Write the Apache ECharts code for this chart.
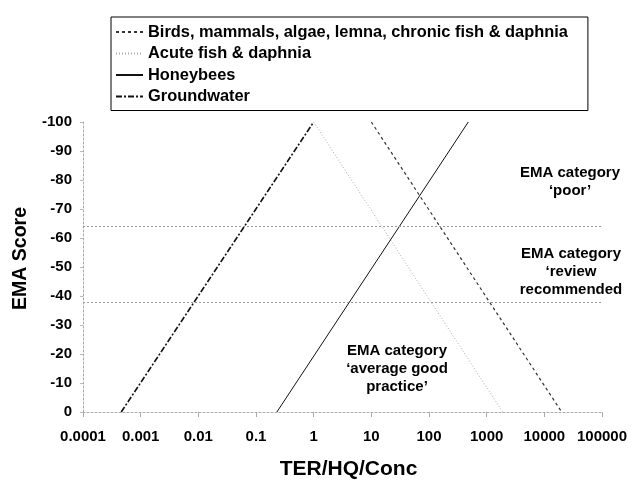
<!DOCTYPE html>
<html>
<head>
<meta charset="utf-8">
<script src="https://cdn.jsdelivr.net/npm/echarts@6/dist/echarts.min.js"></script>
<style>
html,body{margin:0;padding:0;background:#fff;}
#chart{width:634px;height:490px;}
</style>
</head>
<body>
<div id="chart"></div>
<script>
// ---- data ----
var seriesNames = [
  'Birds, mammals, algae, lemna, chronic fish & daphnia',
  'Acute fish & daphnia',
  'Honeybees',
  'Groundwater'
];
var birdsLine = [[10, -100], [20000, 0]];
var acuteLine = [[1, -100], [1900, 0]];
var honeybeeLine = [[0.23, 0], [480, -100]];
var groundwaterLine = [[0.00046, 0], [1, -100]];
var categoryThresholds = [-64, -38];
var xTickLabels = ['0.0001', '0.001', '0.01', '0.1', '1', '10', '100', '1000', '10000', '100000'];
var yTickLabels = ['-100','-90','-80','-70','-60','-50','-40','-30','-20','-10','0'];
var annotations = [
  ['EMA category', '\u2018poor\u2019'],
  ['EMA category', '\u2018review', 'recommended'],
  ['EMA category', '\u2018average good', 'practice\u2019']
];

var FONT = '"Liberation Sans", Arial, sans-serif';
var chart = echarts.init(document.getElementById('chart'), null, {renderer: 'canvas'});

function annot(lines, cx, cy) {
  return {
    type: 'text',
    x: cx, y: cy,
    z: 100,
    style: {
      text: lines.join('\n'),
      font: 'bold 15px ' + FONT,
      fill: '#000',
      align: 'center',
      verticalAlign: 'top',
      lineHeight: 18
    }
  };
}

var option = {
  backgroundColor: '#fff',
  animation: false,
  grid: {left: 83, right: 32, top: 122, bottom: 78, containLabel: false},
  legend: {
    orient: 'vertical',
    left: 111, top: 17,
    padding: [7, 20, 6, 4],
    itemWidth: 27, itemHeight: 14, itemGap: 5.5,
    borderColor: '#000', borderWidth: 1,
    backgroundColor: '#fff',
    itemStyle: {opacity: 0},
    textStyle: {fontFamily: FONT, fontWeight: 'bold', fontSize: 16.4, color: '#000'},
    data: seriesNames
  },
  xAxis: {
    type: 'log', logBase: 10,
    min: 0.0001, max: 100000, splitNumber: 9,
    name: 'TER/HQ/Conc', nameLocation: 'middle', nameGap: 47,
    nameTextStyle: {fontFamily: FONT, fontWeight: 'bold', fontSize: 21, color: '#000', padding: [0, 0, 0, 12]},
    axisLine: {show: true, lineStyle: {color: '#aaa', type: [2, 2], width: 1}},
    axisTick: {show: true, length: 5, lineStyle: {color: '#aaa', width: 1}},
    splitLine: {show: false},
    minorTick: {show: false},
    axisLabel: {
      fontFamily: FONT, fontWeight: 'bold', fontSize: 15, color: '#000', margin: 17,
      formatter: function (v) {
        var i = Math.round(Math.log(v) / Math.LN10) + 4;
        return xTickLabels[i] !== undefined ? xTickLabels[i] : '';
      }
    }
  },
  yAxis: {
    type: 'value', min: -100, max: 0, interval: 10, inverse: true,
    name: 'EMA Score', nameLocation: 'middle', nameGap: 49,
    nameTextStyle: {fontFamily: FONT, fontWeight: 'bold', fontSize: 19.5, color: '#000', padding: [0, 0, 0, 17]},
    axisLine: {show: true, lineStyle: {color: '#aaa', type: [2, 2], width: 1}},
    axisTick: {show: true, length: 3, lineStyle: {color: '#bbb', width: 1}},
    splitLine: {show: false},
    axisLabel: {
      fontFamily: FONT, fontWeight: 'bold', fontSize: 15, color: '#000', margin: 11,
      formatter: function (v) {
        var i = Math.round((v + 100) / 10);
        return yTickLabels[i] !== undefined ? yTickLabels[i] : '';
      }
    }
  },
  series: [
    {
      name: seriesNames[0], type: 'line', data: birdsLine, symbol: 'none',
      color: '#333',
      lineStyle: {color: '#333', width: 1.2, type: [3, 3]},
      markLine: {
        silent: true, symbol: 'none', label: {show: false},
        lineStyle: {color: '#999', width: 1, type: [2, 2]},
        data: categoryThresholds.map(function (t) { return {yAxis: t}; })
      }
    },
    {
      name: seriesNames[1], type: 'line', data: acuteLine, symbol: 'none',
      color: '#aaa',
      lineStyle: {color: '#aaa', width: 1, type: [1, 2]}
    },
    {
      name: seriesNames[2], type: 'line', data: honeybeeLine, symbol: 'none',
      color: '#111',
      lineStyle: {color: '#111', width: 1, type: 'solid'}
    },
    {
      name: seriesNames[3], type: 'line', data: groundwaterLine, symbol: 'none',
      color: '#111',
      lineStyle: {color: '#111', width: 1.6, type: [6, 2, 2, 2]}
    }
  ],
  graphic: [
    annot(annotations[0], 570, 164),
    annot(annotations[1], 571, 245),
    annot(annotations[2], 397, 342)
  ]
};
chart.setOption(option);
</script>
</body>
</html>
